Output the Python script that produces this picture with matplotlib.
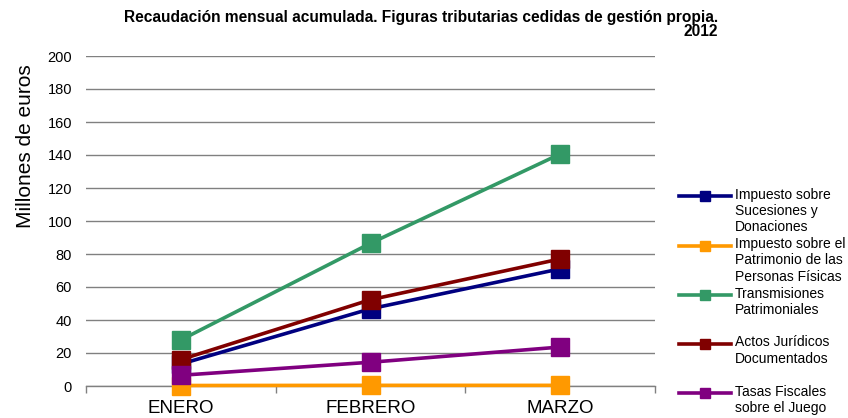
import matplotlib
matplotlib.use("Agg")
import matplotlib.pyplot as plt
from matplotlib.lines import Line2D

plt.rcParams['font.family'] = ['Liberation Sans', 'DejaVu Sans']

months = ["ENERO", "FEBRERO", "MARZO"]
series_names = [
    "Impuesto sobre\nSucesiones y\nDonaciones",
    "Impuesto sobre el\nPatrimonio de las\nPersonas Físicas",
    "Transmisiones\nPatrimoniales",
    "Actos Jurídicos\nDocumentados",
    "Tasas Fiscales\nsobre el Juego",
]
sucesiones = [13.3, 46.8, 71.0]
patrimonio = [0.3, 0.4, 0.4]
transmisiones = [27.9, 86.5, 140.6]
actos = [16.0, 52.3, 77.0]
tasas = [6.5, 14.4, 23.6]
series_values = [sucesiones, patrimonio, transmisiones, actos, tasas]
colors = ["#000080", "#FF9900", "#339966", "#800000", "#800080"]
yticks = [0, 20, 40, 60, 80, 100, 120, 140, 160, 180, 200]

W, H = 848, 418
fig = plt.figure(figsize=(W / 100, H / 100), dpi=100)
ax = fig.add_axes([86 / W, 1 - 386 / H, (655 - 86) / W, (386 - 56) / H])

x = list(range(len(months)))
draw_order = [2, 3, 0, 4, 1]
for i in draw_order:
    ax.plot(x, series_values[i], color=colors[i], lw=2.6, marker='s',
            markersize=12.5, markeredgewidth=1, markeredgecolor=colors[i],
            solid_capstyle='butt', zorder=3 + i, clip_on=False)

ax.set_xlim(-0.5, 2.5)
ax.set_ylim(0, 200)
ax.set_yticks(yticks)
ax.set_yticklabels([str(v) for v in yticks], fontsize=10.5)
ax.set_xticks(x)
ax.set_xticklabels(months, fontsize=13.5)
ax.set_xticks([-0.5, 0.5, 1.5, 2.5], minor=True)
ax.tick_params(axis='x', which='major', length=0, pad=10)
ax.tick_params(axis='x', which='minor', length=5, width=1, color='#808080')
ax.tick_params(axis='y', length=0, pad=10)
ax.grid(axis='y', color='#808080', lw=1)
ax.set_axisbelow(True)
for s in ['left', 'right', 'top']:
    ax.spines[s].set_visible(False)
ax.spines['bottom'].set_color('#808080')
ax.spines['bottom'].set_linewidth(1)

fig.text(26 / W, 1 - 146 / H, "Millones de euros", rotation=90,
         ha='center', va='center', fontsize=15)

fig.text(718 / W, 1 - 36 / H,
         "Recaudación mensual acumulada. Figuras tributarias cedidas de gestión propia.\n2012",
         ha='right', va='baseline', multialignment='right', fontsize=11.2,
         fontweight='bold', linespacing=0.94)

leg_y = [196, 245.7, 295, 344, 393]
for i, name in enumerate(series_names):
    yy = 1 - leg_y[i] / H
    fig.add_artist(Line2D([679 / W, 731 / W], [yy, yy], color=colors[i], lw=2.6,
                          transform=fig.transFigure))
    fig.add_artist(Line2D([705 / W], [yy], color=colors[i], marker='s',
                          markersize=7, transform=fig.transFigure))
    fig.text(735 / W, 1 - (leg_y[i] - 8.5) / H, name, ha='left', va='top',
             fontsize=10, linespacing=1.2)

fig.savefig("out.png", dpi=100)
